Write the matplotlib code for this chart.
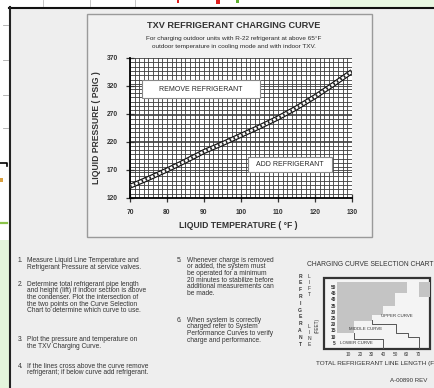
import numpy as np
import matplotlib.pyplot as plt
from matplotlib.patches import Rectangle

plt.rcParams['font.family'] = ['Liberation Sans', 'DejaVu Sans']

# TXV charging curve (liquid temperature F -> liquid pressure psig)
temps = [70, 75, 80, 85, 90, 95, 100, 105, 110, 115, 120, 125, 130]
pressures = [141, 155, 170, 186, 203, 217, 232, 247, 263, 281, 301, 323, 346]
x_ticks = [70, 80, 90, 100, 110, 120, 130]
y_ticks = [120, 170, 220, 270, 320, 370]

# curve selection chart (line length ft vs lift ft)
lift_steps = [12.5, 22.5, 27.5, 35, 45, 54]
gray_len = [15, 30, 40, 50, 60, 60]
corner_lift = [42, 54]
upper_len = [30, 30, 51, 51, 61, 61, 71, 71]
upper_lift = [23, 20, 20, 13, 13, 10, 10, 0]
lower_len = [15, 15, 40, 40]
lower_lift = [13, 8, 8, 0]
sel_xticks = [10, 20, 30, 40, 50, 60, 70]
sel_yticks = [5, 10, 15, 20, 25, 30, 35, 40, 45, 50]

title = 'TXV REFRIGERANT CHARGING CURVE'
subtitle = ['For charging outdoor units with R-22 refrigerant at above 65\u00b0F',
            'outdoor temperature in cooling mode and with indoor TXV.']

steps_left = [
    ('1.', ['Measure Liquid Line Temperature and',
            'Refrigerant Pressure at service valves.']),
    ('2.', ['Determine total refrigerant pipe length',
            'and height (lift) if indoor section is above',
            'the condenser. Plot the intersection of',
            'the two points on the Curve Selection',
            'Chart to determine which curve to use.']),
    ('3.', ['Plot the pressure and temperature on',
            'the TXV Charging Curve.']),
    ('4.', ['If the lines cross above the curve remove',
            'refrigerant; if below curve add refrigerant.']),
]
steps_right = [
    ('5.', ['Whenever charge is removed',
            'or added, the system must',
            'be operated for a minimum',
            '20 minutes to stabilize before',
            'additional measurements can',
            'be made.']),
    ('6.', ['When system is correctly',
            'charged refer to System',
            'Performance Curves to verify',
            'charge and performance.']),
]

W, H = 435, 388


def rect(x0, y0, x1, y1):
    return [x0 / W, 1 - y1 / H, (x1 - x0) / W, (y1 - y0) / H]


fig = plt.figure(figsize=(W / 100, H / 100), dpi=100, facecolor='#eeeeee')

# page background / screenshot frame
bg = fig.add_axes([0, 0, 1, 1])
bg.set_xlim(0, W)
bg.set_ylim(H, 0)
bg.axis('off')
bg.add_patch(Rectangle((0, 0), W, 6.5, fc='white', ec='none'))
bg.add_patch(Rectangle((330, 0), 105, 6.5, fc='#e8f7e2', ec='none'))
bg.add_patch(Rectangle((0, 0), 9, 240, fc='white', ec='none'))
bg.add_patch(Rectangle((0, 240), 9, 148, fc='#e4f5dc', ec='none'))
for xs in [43, 90, 135]:
    bg.plot([xs, xs], [0, 6], color='#bbbbbb', lw=0.6)
bg.add_patch(Rectangle((177, 0), 2.5, 3, fc='#e02020', ec='none'))
bg.add_patch(Rectangle((216, 0), 4, 3.5, fc='#e02020', ec='none'))
bg.add_patch(Rectangle((236, 0), 3, 3, fc='#5fb030', ec='none'))
for ys in [25, 60, 95, 128]:
    bg.plot([3, 8], [ys, ys], color='#aaaaaa', lw=0.6)
bg.plot([0, 7, 7], [163, 163, 166], color='black', lw=1.2)
bg.add_patch(Rectangle((0, 178), 3, 4, fc='#d9a040', ec='none'))
bg.plot([0, 7], [223, 223], color='#8bc34a', lw=1.6)
bg.plot([9, W], [7.5, 7.5], color='#111111', lw=1.5)
bg.plot([10.3, 10.3], [7, H], color='#222222', lw=1.5)

# chart panel
bg.add_patch(Rectangle((87, 14), 285, 223, fc='#f1f1f1', ec='#9a9a9a', lw=1))
bg.text(234, 25, title, ha='center', va='center', fontsize=6.6,
        fontweight='bold', color='#333333')
for i, line in enumerate(subtitle):
    bg.text(234, 38.5 + i * 8, line, ha='center', va='center', fontsize=4.6,
            color='#2a2a2a')
bg.text(97, 128, 'LIQUID PRESSURE ( PSIG )', rotation=90, ha='center',
        va='center', fontsize=6.2, fontweight='bold', color='#333333')
bg.text(238, 225, 'LIQUID TEMPERATURE ( \u00b0F )', ha='center', va='center',
        fontsize=6.2, fontweight='bold', color='#333333')

# main chart
ax = fig.add_axes(rect(130, 58, 352, 198))
ax.set_facecolor('white')
ax.set_xlim(70, 130)
ax.set_ylim(120, 370)
ax.set_xticks(x_ticks)
ax.set_yticks(y_ticks)
ax.set_xticks(np.arange(70, 130.01, 1.25), minor=True)
ax.set_yticks(np.linspace(120, 370, 33), minor=True)
ax.grid(which='both', color='#3c3c3c', lw=0.6)
ax.tick_params(which='minor', length=0)
ax.tick_params(which='major', direction='inout', length=6, width=0.9,
               labelsize=4.8, colors='#333333')
ax.tick_params(axis='y', pad=5.6)
ax.tick_params(axis='x', pad=5.0)
for lab in ax.get_xticklabels() + ax.get_yticklabels():
    lab.set_fontweight('bold')
for s in ['top', 'right']:
    ax.spines[s].set_visible(False)
ax.spines['left'].set_linewidth(1.3)
ax.spines['bottom'].set_linewidth(1.3)
ax.set_axisbelow(True)

ax.plot(temps, pressures, color='#111111', lw=3.6, solid_capstyle='butt', zorder=3)
ax.plot(temps, pressures, color='white', lw=1.9, solid_capstyle='butt', zorder=4)
ax.plot(temps, pressures, color='#222222', lw=1.9, ls=(0, (0.6, 1.0)), zorder=5)

ax.add_patch(Rectangle((73.2, 298.6), 31.9, 32.1, fc='white', ec='#888888',
                       lw=0.8, zorder=6))
ax.text(89.2, 314.6, 'REMOVE REFRIGERANT', ha='center', va='center',
        fontsize=5.0, color='#2a2a2a', zorder=7)
ax.add_patch(Rectangle((101.9, 166.4), 22.7, 26.8, fc='white', ec='#888888',
                       lw=0.8, zorder=6))
ax.text(113.2, 179.8, 'ADD REFRIGERANT', ha='center', va='center',
        fontsize=5.0, color='#2a2a2a', zorder=7)

# instructions
tcol = '#333333'
fs = 4.8
for (num, lines), y0 in zip(steps_left, [260.7, 284, 339.3, 366]):
    bg.text(18, y0, num, fontsize=fs, va='center', color=tcol)
    for i, line in enumerate(lines):
        bg.text(26.7, y0 + i * 6.7, line, fontsize=fs, va='center', color=tcol)
for (num, lines), y0 in zip(steps_right, [260, 320]):
    bg.text(177, y0, num, fontsize=fs, va='center', color=tcol)
    for i, line in enumerate(lines):
        bg.text(186.7, y0 + i * 6.7, line, fontsize=fs, va='center', color=tcol)

# selection chart
bg.text(307, 265, 'CHARGING CURVE SELECTION CHART', fontsize=4.9,
        va='center', color=tcol)
bg.text(316, 363, 'TOTAL REFRIGERANT LINE LENGTH (FEET)', fontsize=4.6,
        va='center', color=tcol)
bg.text(390, 381, 'A-00890 REV', fontsize=4.4, va='center', color=tcol)
for i, ch in enumerate('REFRIGERANT'):
    bg.text(300, 276 + i * 6.8, ch, fontsize=3.6, ha='center', va='center',
            color=tcol, fontweight='bold')
for i, ch in enumerate('LIFT'):
    bg.text(309.5, 276 + i * 6.0, ch, fontsize=3.6, ha='center', va='center',
            color=tcol)
for i, ch in enumerate('LINE'):
    bg.text(309.5, 327 + i * 6.0, ch, fontsize=3.6, ha='center', va='center',
            color=tcol)
bg.text(317, 325, '(FEET)', rotation=90, fontsize=3.4, ha='center',
        va='center', color=tcol)
bg.add_patch(Rectangle((324, 277.5), 106.5, 71.5, fc='#f4f4f4', ec='#333333',
                       lw=1.6))

sel = fig.add_axes(rect(336.6, 282, 430, 349))
sel.set_facecolor('none')
sel.set_xlim(0, 80)
sel.set_ylim(0, 54)
sel.fill_betweenx(lift_steps, 0, gray_len, step='post', color='#c4c4c4', lw=0)
sel.fill_betweenx(corner_lift, 71, 80, color='#c4c4c4', lw=0)
sel.plot(upper_len, upper_lift, color='#555555', lw=0.7)
sel.plot(lower_len, lower_lift, color='#555555', lw=0.7)
sel.text(51.6, 26.4, 'UPPER CURVE', fontsize=3.2, ha='center', va='center',
         color=tcol)
sel.text(25, 16, 'MIDDLE CURVE', fontsize=3.2, ha='center', va='center',
         color=tcol)
sel.text(17, 5, 'LOWER CURVE', fontsize=3.2, ha='center', va='center',
         color=tcol)
sel.set_xticks(sel_xticks)
sel.set_yticks(sel_yticks)
sel.tick_params(length=0, labelsize=3.4, colors=tcol, pad=2)
sel.tick_params(axis='y', pad=0.5)
for lab in sel.get_yticklabels():
    lab.set_fontweight('bold')
for s in sel.spines.values():
    s.set_visible(False)

fig.savefig('out.png', dpi=100, facecolor=fig.get_facecolor())
